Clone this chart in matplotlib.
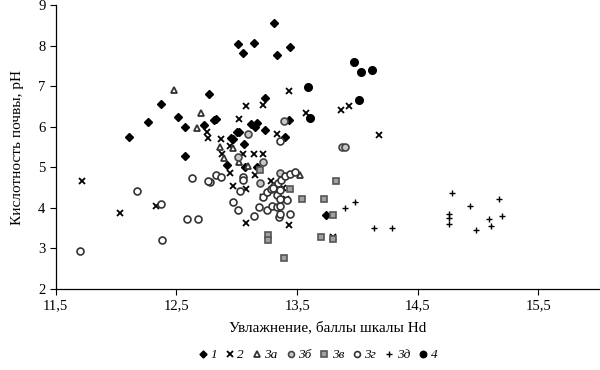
import matplotlib
matplotlib.use("Agg")
import matplotlib.pyplot as plt
from matplotlib.ticker import FuncFormatter

plt.rcParams["font.family"] = ["Liberation Serif", "DejaVu Serif"]

# 1 - diamonds
x1 = [13.31, 13.01, 13.14, 13.05, 13.44, 13.33, 12.77, 12.37, 12.51, 12.26, 12.57,
      12.73, 12.81, 12.83, 12.11, 13.23, 13.12, 13.15, 13.17, 13.02, 12.95, 12.97,
      13.06, 12.57, 12.92, 13.43, 13.23, 13.40, 13.17, 13.07, 13.74, 13.00]
y1 = [8.56, 8.04, 8.06, 7.81, 7.97, 7.78, 6.80, 6.56, 6.24, 6.13, 6.00,
      6.04, 6.16, 6.20, 5.74, 6.72, 6.08, 6.00, 6.10, 5.88, 5.73, 5.69,
      5.57, 5.28, 5.07, 6.18, 5.92, 5.75, 5.01, 5.01, 3.82, 5.87]

# 2 - crosses
x2 = [11.72, 12.03, 12.33, 13.43, 13.08, 13.22, 13.02, 13.57, 13.86, 13.93, 14.18,
      12.75, 12.76, 12.87, 12.94, 12.88, 13.05, 13.14, 13.22, 12.94, 13.15, 13.33,
      13.28, 13.38, 12.97, 13.08, 13.22, 13.41, 13.08, 13.43, 13.80]
y2 = [4.66, 3.88, 4.05, 6.89, 6.52, 6.55, 6.19, 6.35, 6.42, 6.51, 5.80,
      5.87, 5.73, 5.69, 5.52, 5.33, 5.32, 5.33, 5.33, 4.86, 4.81, 5.82,
      4.66, 4.50, 4.55, 4.46, 4.26, 4.22, 3.62, 3.57, 3.27]

# 3а - open triangles
x3a = [12.48, 12.70, 12.67, 12.86, 12.97, 12.89, 13.02, 13.09, 13.52]
y3a = [6.91, 6.33, 5.97, 5.50, 5.48, 5.22, 5.12, 5.04, 4.80]

# 3б - grey circles
x3b = [13.09, 13.39, 13.22, 13.87, 13.90, 13.01, 13.36, 13.19]
y3b = [5.82, 6.15, 5.14, 5.49, 5.50, 5.26, 4.85, 4.62]

# 3в - grey squares
x3v = [13.19, 13.82, 13.54, 13.72, 13.80, 13.44, 13.26, 13.26, 13.39, 13.70, 13.80]
y3v = [4.93, 4.66, 4.21, 4.21, 3.82, 4.46, 3.33, 3.22, 2.76, 3.29, 3.23]

# 3г - open circles
x3g = [11.70, 12.17, 12.37, 12.38, 12.59, 12.68, 12.63, 12.78, 12.83, 12.87,
       13.05, 13.05, 13.03, 12.97, 13.01, 13.14, 13.18, 12.76, 13.25, 13.29,
       13.33, 13.36, 13.35, 13.44, 13.22, 13.25, 13.28, 13.31, 13.34, 13.37,
       13.40, 13.44, 13.48, 13.33, 13.36, 13.42, 13.30, 13.36, 13.36, 13.36]
y3g = [2.94, 4.42, 4.09, 3.20, 3.72, 3.72, 4.74, 4.64, 4.82, 4.77,
       4.77, 4.69, 4.41, 4.14, 3.95, 3.80, 4.03, 4.66, 3.96, 4.04,
       4.01, 4.04, 3.78, 3.86, 4.27, 4.38, 4.46, 4.55, 4.62, 4.70,
       4.78, 4.83, 4.88, 4.32, 4.23, 4.19, 4.50, 4.44, 3.84, 5.65]

# 3д - pluses
x3d = [13.90, 13.98, 14.14, 14.29, 14.78, 14.76, 14.76, 14.76, 14.93, 14.98,
       15.09, 15.11, 15.17, 15.20]
y3d = [3.99, 4.15, 3.50, 3.50, 4.36, 3.84, 3.76, 3.60, 4.05, 3.45,
       3.72, 3.55, 4.22, 3.79]

# 4 - filled circles
x4 = [13.59, 13.61, 13.97, 14.03, 14.12, 14.01]
y4 = [6.97, 6.22, 7.59, 7.36, 7.39, 6.67]

fig = plt.figure(figsize=(6, 3.7), dpi=100)
ax = fig.add_axes([0.093, 0.219, 0.905, 0.767])

ax.plot(x1, y1, ls="none", marker="D", ms=4.2, color="black", label="1")
ax.plot(x2, y2, ls="none", marker="x", ms=4.5, mew=1.3, color="black", label="2")
ax.plot(x3a, y3a, ls="none", marker="^", ms=5, mew=1.3, mfc="white", mec="#333333", label="3а")
ax.plot(x3b, y3b, ls="none", marker="o", ms=5, mew=1.2, mfc="#c8c8c8", mec="#444444", label="3б")
ax.plot(x3v, y3v, ls="none", marker="s", ms=5, mew=1.2, mfc="#a0a0a0", mec="#555555", label="3в")
ax.plot(x3g, y3g, ls="none", marker="o", ms=5, mew=1.2, mfc="white", mec="#333333", label="3г")
ax.plot(x3d, y3d, ls="none", marker="+", ms=5, mew=1.0, color="black", label="3д")
ax.plot(x4, y4, ls="none", marker="o", ms=5.5, color="black", label="4")

ax.set_xlim(11.5, 16)
ax.set_ylim(2, 9)
ax.set_xticks([11.5, 12.5, 13.5, 14.5, 15.5])
ax.set_yticks(range(2, 10))
ax.xaxis.set_major_formatter(FuncFormatter(lambda v, p: f"{v:.1f}".replace(".", ",")))
ax.tick_params(labelsize=10.5, length=4, width=0.8, direction="out")
for s in ["top", "right"]:
    ax.spines[s].set_visible(False)
for s in ["left", "bottom"]:
    ax.spines[s].set_linewidth(0.9)

ax.set_xlabel("Увлажнение, баллы шкалы Hd", fontsize=11, labelpad=6)
ax.set_ylabel("Кислотность почвы, pH", fontsize=11, labelpad=10)

fig.legend(loc="center", bbox_to_anchor=(0.53, 0.04), ncol=8, frameon=False,
           prop={"style": "italic", "size": 9.5}, handlelength=0.6, markerscale=0.85,
           handletextpad=0.25, columnspacing=0.7, borderpad=0)

fig.savefig("out.png", dpi=100)
